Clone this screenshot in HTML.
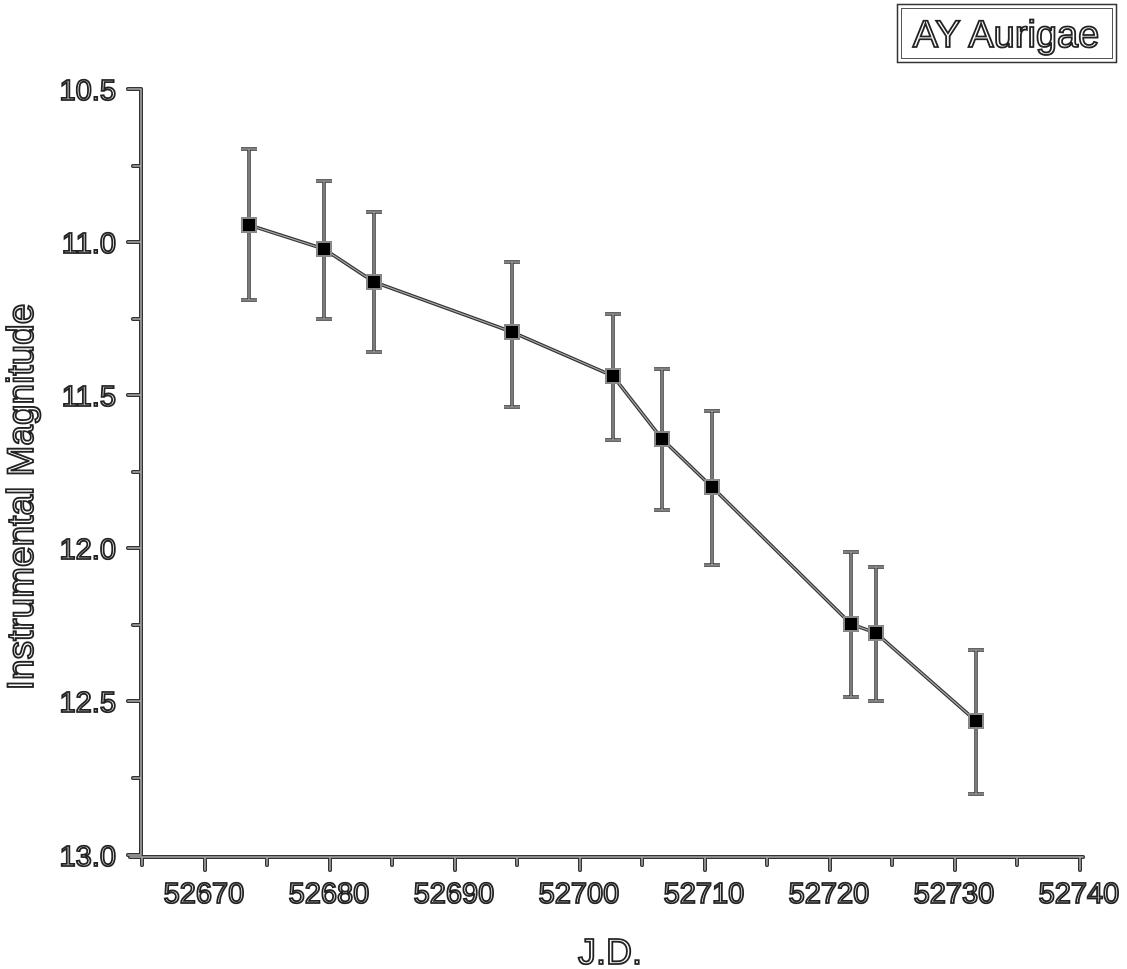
<!DOCTYPE html>
<html><head><meta charset="utf-8"><style>
html,body{margin:0;padding:0;background:#fff;}
svg{display:block;}
text{font-family:"Liberation Sans",sans-serif;fill:#fff;stroke:#222;stroke-width:1.8;}
</style></head><body>
<svg width="1127" height="969" viewBox="0 0 1127 969" xmlns="http://www.w3.org/2000/svg">
<g id="axes" fill="none" stroke-linecap="round">
<g stroke="#333" stroke-width="4">
<path d="M141 89V855M128 89H141M133 242H141M128 242H141M133 166H141M133 319H141M128 395H141M133 472H141M128 548H141M133 625H141M128 701H141M133 778H141M128 855H141"/>
<path d="M130 857H1083M142 857V865M205 857V870M267 857V865M330 857V870M392 857V865M455 857V870M517 857V865M580 857V870M642 857V865M705 857V870M767 857V865M830 857V870M892 857V865M955 857V870M1017 857V865M1080 857V870"/>
</g>
<g stroke="#aaa" stroke-width="1.5">
<path d="M141 89V855M128 89H141M133 242H141M128 242H141M133 166H141M133 319H141M128 395H141M133 472H141M128 548H141M133 625H141M128 701H141M133 778H141M128 855H141"/>
<path d="M130 857H1083M142 857V865M205 857V870M267 857V865M330 857V870M392 857V865M455 857V870M517 857V865M580 857V870M642 857V865M705 857V870M767 857V865M830 857V870M892 857V865M955 857V870M1017 857V865M1080 857V870"/>
</g>
</g>
<g fill="none">
<g stroke="#333" stroke-width="3.5">
<path d="M249 225L324 249L374 282L512 332L613 376L662 439L712 487L851 624L876 633L976 721"/>
<path d="M249 149V300M241 149H257M241 300H257 M324 181V319M316 181H332M316 319H332 M374 212V352M366 212H382M366 352H382 M512 262V407M504 262H520M504 407H520 M613 314V440M605 314H621M605 440H621 M662 369V510M654 369H670M654 510H670 M712 411V565M704 411H720M704 565H720 M851 552V697M843 552H859M843 697H859 M876 567V701M868 567H884M868 701H884 M976 650V794M968 650H984M968 794H984"/>
</g>
<g stroke="#aaa" stroke-width="1.2">
<path d="M249 225L324 249L374 282L512 332L613 376L662 439L712 487L851 624L876 633L976 721"/>
<path d="M249 149V300M241 149H257M241 300H257 M324 181V319M316 181H332M316 319H332 M374 212V352M366 212H382M366 352H382 M512 262V407M504 262H520M504 407H520 M613 314V440M605 314H621M605 440H621 M662 369V510M654 369H670M654 510H670 M712 411V565M704 411H720M704 565H720 M851 552V697M843 552H859M843 697H859 M876 567V701M868 567H884M868 701H884 M976 650V794M968 650H984M968 794H984"/>
</g>
</g>
<g fill="#000" stroke="#888" stroke-width="2">
<rect x="242" y="218" width="14" height="14"/><rect x="317" y="242" width="14" height="14"/>
<rect x="367" y="275" width="14" height="14"/><rect x="505" y="325" width="14" height="14"/>
<rect x="606" y="369" width="14" height="14"/><rect x="655" y="432" width="14" height="14"/>
<rect x="705" y="480" width="14" height="14"/><rect x="844" y="617" width="14" height="14"/>
<rect x="869" y="626" width="14" height="14"/><rect x="969" y="714" width="14" height="14"/>
</g>
<g font-size="29" text-anchor="end">
<text x="116" y="100">10.5</text><text x="116" y="253">11.0</text><text x="116" y="406">11.5</text>
<text x="116" y="559">12.0</text><text x="116" y="712">12.5</text><text x="116" y="866">13.0</text>
</g>
<g font-size="29" text-anchor="middle">
<text x="204" y="903">52670</text><text x="329" y="903">52680</text><text x="454" y="903">52690</text>
<text x="579" y="903">52700</text><text x="704" y="903">52710</text><text x="829" y="903">52720</text>
<text x="954" y="903">52730</text><text x="1079" y="903">52740</text>
<text x="610" y="964" font-size="36">J.D.</text>
<text transform="translate(33,497) rotate(-90)" font-size="37">Instrumental Magnitude</text>
</g>
<rect x="897.5" y="4.5" width="219" height="58" fill="none" stroke="#333" stroke-width="1.5"/>
<rect x="901.5" y="8.5" width="211" height="50" fill="none" stroke="#555" stroke-width="1"/>
<text x="1006" y="47" font-size="38" text-anchor="middle">AY Aurigae</text>
</svg>
</body></html>
